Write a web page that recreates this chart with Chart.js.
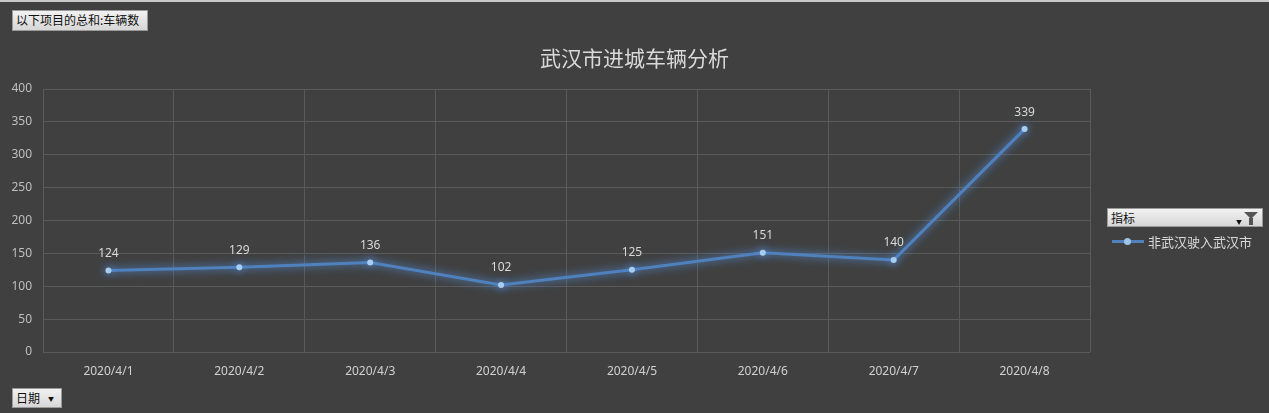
<!DOCTYPE html>
<html>
<head>
<meta charset="utf-8">
<script src="https://cdn.jsdelivr.net/npm/chart.js@4/dist/chart.umd.min.js"></script>
<style>
  html, body { margin: 0; padding: 0; background: #404040; }
  #wrap { position: relative; width: 1269px; height: 413px; background: #404040; border-top: 2px solid #c8c8c8; box-sizing: border-box; overflow: hidden; }
  canvas { position: absolute; left: 0; top: 0; }
  .btn { position: absolute; background: linear-gradient(#f2f2f2, #d6d6d6); border: 1px solid #9a9a9a; color: #111;
         font: 12px "Noto Sans CJK SC", sans-serif; line-height: 18px; padding: 0 3px; box-sizing: border-box; }
  #sumBtn { left: 12px; top: 8px; width: 136px; height: 21px; }
  #dateBtn { left: 12px; top: 386px; width: 50px; height: 20px; }
  #dateBtn span { font-size: 6px; margin-left: 8px; vertical-align: 2px; }
  #filter { left: 1107px; top: 206px; width: 156px; height: 19px; }
  #funnel { position: absolute; right: 4px; top: 3px; width: 0; height: 0; border-left: 7px solid transparent; border-right: 7px solid transparent; border-top: 7px solid #555; }
  #funnel:after { content: ""; position: absolute; left: -2px; top: -1px; width: 4px; height: 7px; background: #555; }
  #filter span.arr { position: absolute; right: 20px; top: 4px; font-size: 6px; }
  #legend { position: absolute; left: 1112px; top: 230px; color: #d9d9d9; font: 13px "Noto Sans CJK SC", sans-serif; display: flex; align-items: center; }
  #legend .sw { position: relative; width: 32px; height: 3px; background: #4f81bd; margin-right: 4px; }
  #legend .sw i { position: absolute; left: 12px; top: -2px; width: 7px; height: 7px; border-radius: 50%; background: #9dc3e6; }
</style>
</head>
<body>
<div id="wrap">
  <canvas id="c" width="1269" height="411"></canvas>
  <div class="btn" id="sumBtn">以下项目的总和:车辆数</div>
  <div class="btn" id="filter">指标<span class="arr">▼</span><div id="funnel"></div></div>
  <div id="legend"><div class="sw"><i></i></div><span id="legendText"></span></div>
  <div class="btn" id="dateBtn">日期<span>▼</span></div>
</div>
<script>
const dates = ['2020/4/1', '2020/4/2', '2020/4/3', '2020/4/4', '2020/4/5', '2020/4/6', '2020/4/7', '2020/4/8'];
const vehicles = [124, 129, 136, 102, 125, 151, 140, 339];
const seriesName = '非武汉驶入武汉市';
const chartTitle = '武汉市进城车辆分析';
const yMax = 400;
const yStep = 50;

document.getElementById('legendText').textContent = seriesName;

// title centred on the whole canvas, not just the plot
const pageTitle = {
  id: 'pageTitle',
  afterDraw(chart) {
    const ctx = chart.ctx;
    ctx.save();
    ctx.fillStyle = '#d9d9d9';
    ctx.font = '21px "Noto Sans CJK SC", sans-serif';
    ctx.textAlign = 'center';
    ctx.textBaseline = 'middle';
    ctx.fillText(chartTitle, chart.width / 2, 56);
    ctx.restore();
  }
};

const glow = {
  id: 'glow',
  beforeDatasetDraw(chart) {
    const ctx = chart.ctx;
    ctx.save();
    ctx.shadowColor = 'rgba(90, 160, 255, 0.9)';
    ctx.shadowBlur = 9;
  },
  afterDatasetDraw(chart) {
    chart.ctx.restore();
  }
};

const valueLabels = {
  id: 'valueLabels',
  afterDatasetsDraw(chart) {
    const ctx = chart.ctx;
    const meta = chart.getDatasetMeta(0);
    ctx.save();
    ctx.fillStyle = '#d9d9d9';
    ctx.font = '12px "Noto Sans", sans-serif';
    ctx.textAlign = 'center';
    ctx.textBaseline = 'middle';
    meta.data.forEach((pt, i) => {
      ctx.fillText(String(vehicles[i]), pt.x, pt.y - 17);
    });
    ctx.restore();
  }
};

new Chart(document.getElementById('c').getContext('2d'), {
  type: 'line',
  data: {
    labels: dates,
    datasets: [{
      label: seriesName,
      data: vehicles,
      borderColor: '#4f81bd',
      borderWidth: 3,
      tension: 0,
      pointRadius: 3,
      pointBackgroundColor: '#a9cdf0',
      pointBorderColor: '#a9cdf0',
      pointBorderWidth: 0
    }]
  },
  options: {
    responsive: false,
    animation: false,
    layout: { padding: { left: 0, right: 179, top: 87, bottom: 0 } },
    plugins: {
      legend: { display: false },
      tooltip: { enabled: false },
      title: { display: false }
    },
    scales: {
      x: {
        offset: true,
        grid: { color: '#5a5a5a', offset: true, drawTicks: false, lineWidth: 1 },
        border: { display: false },
        ticks: { color: '#d0d0d0', padding: 12, font: { size: 12, family: '"Noto Sans", sans-serif' }, maxRotation: 0 },
        afterFit(s) { s.height = 61; }
      },
      y: {
        min: 0,
        max: yMax,
        ticks: { stepSize: yStep, color: '#bfbfbf', padding: 11, font: { size: 12, family: '"Noto Sans", sans-serif' } },
        grid: { color: '#5a5a5a', drawTicks: false, lineWidth: 1 },
        border: { display: false },
        afterFit(s) { s.width = 43; }
      }
    }
  },
  plugins: [pageTitle, glow, valueLabels]
});
</script>
</body>
</html>
